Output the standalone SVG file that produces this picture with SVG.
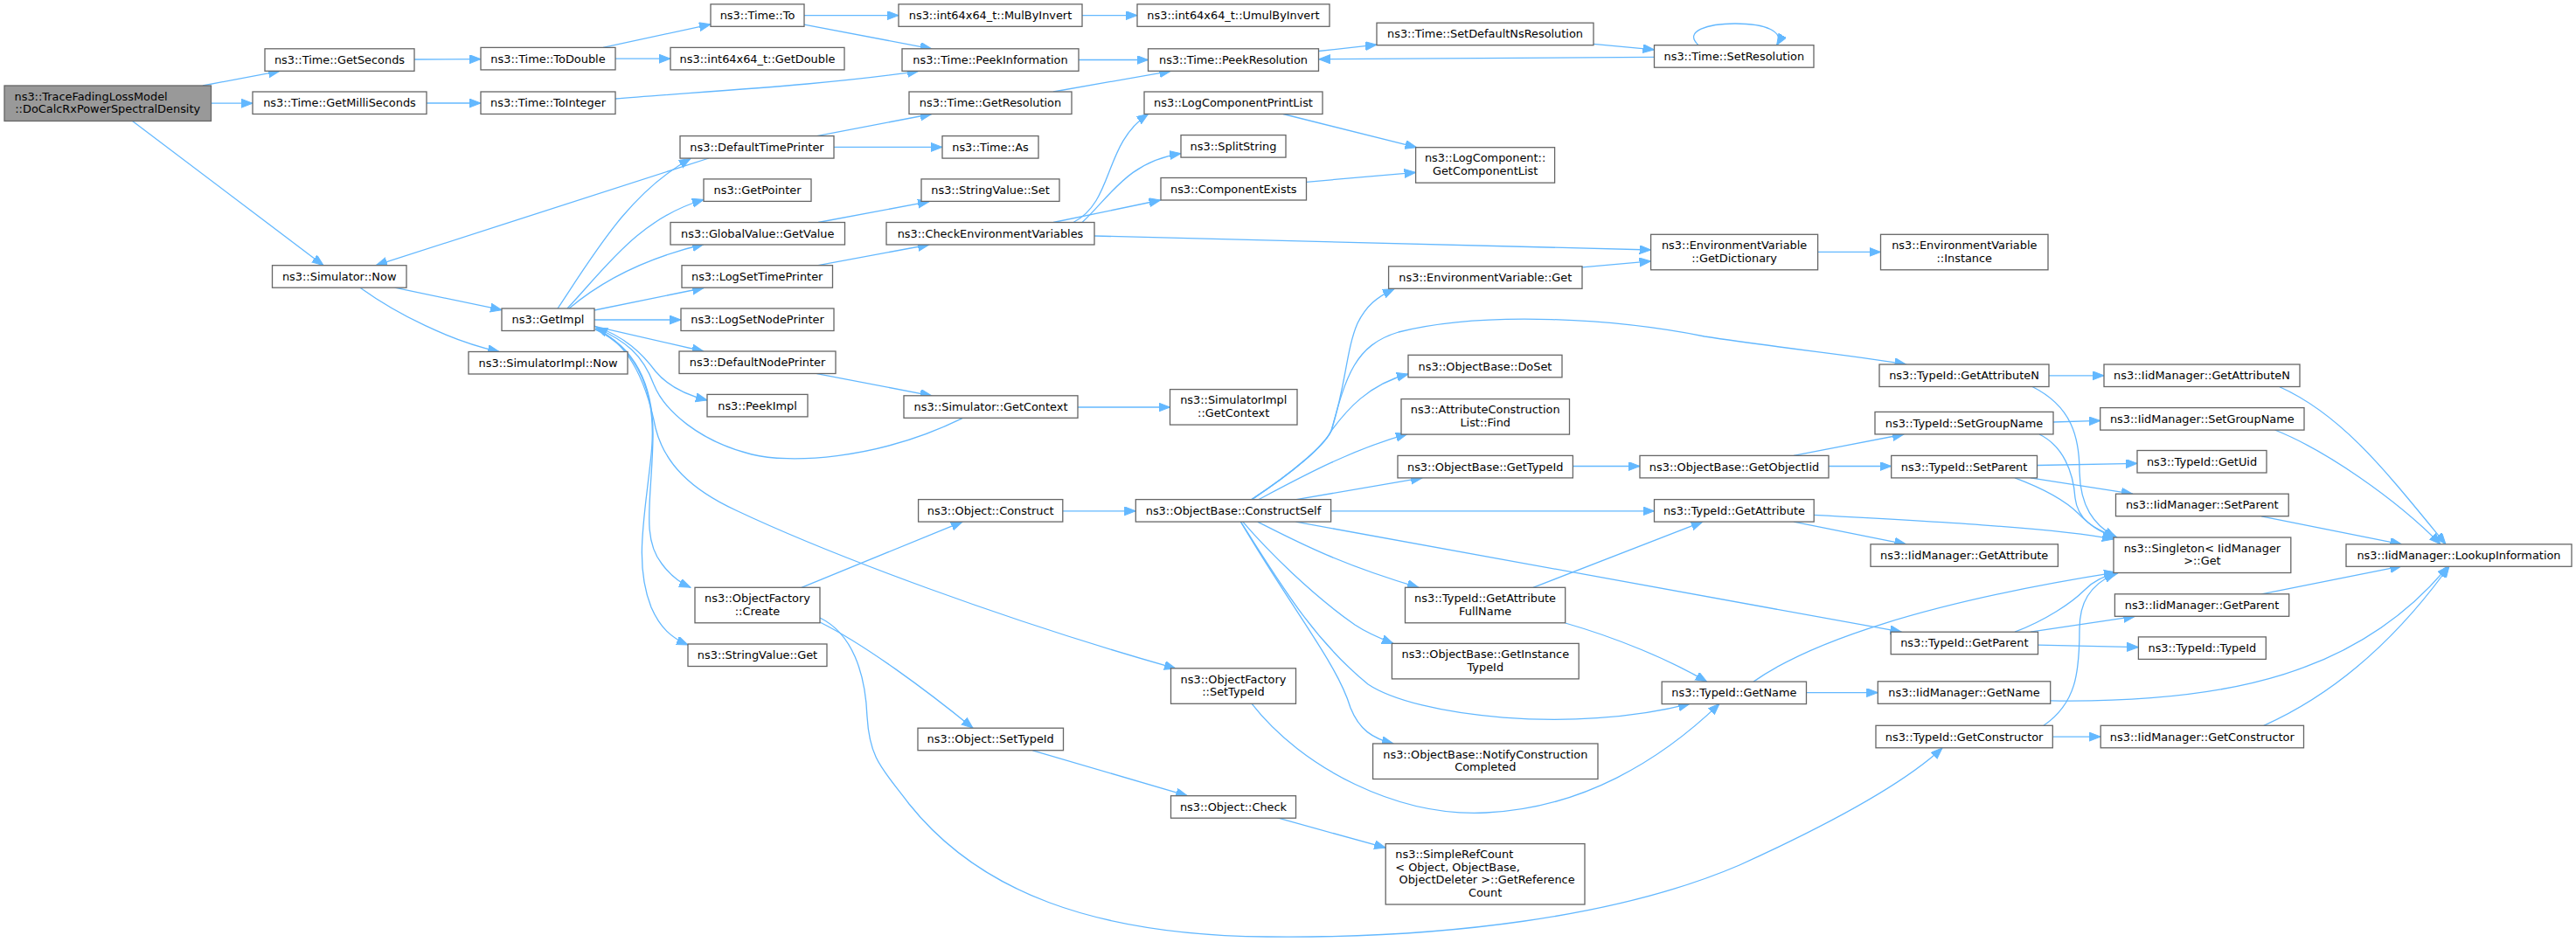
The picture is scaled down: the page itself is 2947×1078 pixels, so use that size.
<svg xmlns="http://www.w3.org/2000/svg" width="2947" height="1078" viewBox="0 0 2947 1078">
<style>
.n rect{fill:#fff;stroke:#666;stroke-width:1.3}
.root rect{fill:#999}
text{font-family:"DejaVu Sans","Noto Sans",sans-serif;font-size:12.9px;fill:#000;text-anchor:middle}
text.l{text-anchor:start}
#edges path{fill:none;stroke:#63b8ff;stroke-width:1.3;marker-end:url(#a)}
</style>
<defs>
<marker id="a" markerWidth="14" markerHeight="11" refX="13" refY="5" orient="auto" markerUnits="userSpaceOnUse"><path d="M0,0 L13,5 L0,10 z" fill="#63b8ff" stroke="#63b8ff" stroke-width="1"/></marker>
</defs>
<rect width="2947" height="1078" fill="#fff"/>
<g id="edges">
<path d="M232,98 L320,81.3"/>
<path d="M241.5,118.2 L289,118.2"/>
<path d="M151.5,138.5 L370,303.7"/>
<path d="M474,68 L550,67.6"/>
<path d="M488,118 L550,118"/>
<path d="M690,54.4 L813,27.8"/>
<path d="M704,67.2 L767,67.2"/>
<path d="M704,113 C800,105 950,97 1051,81.3"/>
<path d="M920,17.6 L1028,17.6"/>
<path d="M920,28.2 L1065.7,55.8"/>
<path d="M1238,17.6 L1301,17.6"/>
<path d="M1234,68.5 L1313.5,68.5"/>
<path d="M1205,105 L1339.5,81.3"/>
<path d="M1508.6,58.5 L1575,51.2"/>
<path d="M1823,50.3 L1892.5,56.8"/>
<path d="M1892.5,65.4 L1508.6,67.8"/>
<path d="M1943,51.7 C1925,35 1955,27 1985,27 C2020,27 2042,36 2032.6,51.7"/>
<path d="M451.6,329.2 L574,354.7"/>
<path d="M412,329.2 C455,360 515,390 571,402.5"/>
<path d="M811,181 L430,303.7"/>
<path d="M638,353 C680,290 720,220 790,181.5"/>
<path d="M649,353 C690,310 730,250 805,228.5"/>
<path d="M651,353 C690,320 740,295 805,279.5"/>
<path d="M680,355 L805,329.5"/>
<path d="M680,366 L779,366"/>
<path d="M680,373.3 L804.8,402"/>
<path d="M680,373 C715,385 735,405 750,425 C765,443 785,452 809,458"/>
<path d="M681,377 C725,395 748,440 747,500 C746,570 733,615 757,645 C768,660 778,667 790,672.3"/>
<path d="M681,377 C730,400 752,450 745,520 C738,590 725,645 745,695 C755,718 768,730 787,738"/>
<path d="M681,376 C720,392 740,440 750,490 C760,530 790,560 842,584 C950,635 1150,710 1345,765"/>
<path d="M1101,478.6 C1000,528 900,530 860,520 C800,505 760,470 748,440 C735,405 715,390 682,375"/>
<path d="M936,254.5 L1063,230.7"/>
<path d="M936,303.7 L1063,280"/>
<path d="M934.5,155.6 L1065.7,130.5"/>
<path d="M954,168.4 L1078,168.4"/>
<path d="M934.5,427.6 L1065.7,452.8"/>
<path d="M1233,466 L1338.5,466"/>
<path d="M1228,254.5 C1275,230 1262,165 1313.5,130.5"/>
<path d="M1238,254.5 C1270,225 1290,185 1351,175.6"/>
<path d="M1205,254.5 L1327.6,229"/>
<path d="M1252,270 L1888.6,286"/>
<path d="M1468,130.5 L1620.6,168.7"/>
<path d="M1494.5,208.3 L1619.6,197.3"/>
<path d="M2079.6,288.4 L2151.5,288.4"/>
<path d="M1810,305.8 L1888.6,298.9"/>
<path d="M917,672.3 L1101,597.2"/>
<path d="M938,712 C990,738 1060,790 1113,833.2"/>
<path d="M938,707 C975,725 990,770 992,820 C995,870 1010,880 1040,920 C1120,1020 1250,1070 1450,1072 C1650,1074 1850,1050 1990,990 C2100,940 2180,895 2222,856"/>
<path d="M1215.8,584.8 L1299.3,584.8"/>
<path d="M1181.4,858.8 L1358.3,910.7"/>
<path d="M1460.6,935.7 L1585.2,970.2"/>
<path d="M1431.5,804.7 C1490,880 1600,935 1700,930 C1810,925 1900,870 1967,805.4"/>
<path d="M1432,571.6 C1480,540 1515,510 1523,493 C1540,440 1540,400 1553,370 C1563,350 1575,340 1595,330.6"/>
<path d="M1432,571.6 C1480,540 1515,510 1523,493 C1540,430 1550,395 1600,380 C1700,355 1850,365 1950,385 C2050,400 2130,408 2180.5,417"/>
<path d="M1432,571.6 C1480,540 1515,510 1523,493 C1540,470 1565,440 1611,428"/>
<path d="M1440,571.6 C1490,545 1545,515 1610,496.6"/>
<path d="M1483,571.6 L1627,546.9"/>
<path d="M1522.6,584.8 L1892.5,584.8"/>
<path d="M1438.8,597.2 C1480,618 1530,645 1623,672.3"/>
<path d="M1421.8,597.2 C1450,630 1500,680 1550,715 C1565,725 1580,731 1594,736.4"/>
<path d="M1419.4,597.2 C1480,700 1530,760 1545,810 C1555,835 1570,845 1594,851"/>
<path d="M1419.4,597.2 C1460,660 1500,730 1565,783 C1620,820 1800,840 1933,805.4"/>
<path d="M1482.4,597.2 L2175.4,723.2"/>
<path d="M1753.9,672.3 L1947.7,597.2"/>
<path d="M1790.7,713 C1850,730 1910,755 1952.6,780.1"/>
<path d="M1799.4,533.5 L1876,533.5"/>
<path d="M2092,533.5 L2163.7,533.5"/>
<path d="M2052,521.4 L2178,497"/>
<path d="M2052,597.2 L2180.5,622.8"/>
<path d="M2075,589.4 C2200,596 2350,604 2418,617"/>
<path d="M2066.5,792.6 L2148.3,792.6"/>
<path d="M2006,780.1 C2070,735 2200,690 2420,655.2"/>
<path d="M2344,429.8 L2407,429.8"/>
<path d="M2325,442.5 C2370,465 2379,500 2379,540 C2380,580 2395,600 2420,615"/>
<path d="M2349,483 L2402.7,481.4"/>
<path d="M2333,497 C2360,510 2372,540 2374,570 C2377,595 2395,605 2422,615"/>
<path d="M2330.5,532.5 L2445,530.3"/>
<path d="M2322.9,546.9 L2439.8,565.2"/>
<path d="M2305,546.9 C2340,560 2365,575 2378,588 C2390,600 2400,608 2420,615"/>
<path d="M2587.2,590.8 L2747.4,622.8"/>
<path d="M2607.5,442.5 C2680,475 2730,540 2798,622.8"/>
<path d="M2602.5,492 C2660,515 2740,570 2792,622.8"/>
<path d="M2587.2,679.8 L2747.4,647.8"/>
<path d="M2345.7,801.9 C2550,805 2700,770 2800.7,647.8"/>
<path d="M2589.8,830.3 C2680,790 2750,720 2802,647.8"/>
<path d="M2322.9,723.2 L2442.3,705.4"/>
<path d="M2331.5,738.2 L2446.4,740.6"/>
<path d="M2305,723.2 C2340,710 2370,690 2385,675 C2395,665 2405,660 2424,655.2"/>
<path d="M2348.3,843.1 L2403.2,843.1"/>
<path d="M2338,830.3 C2375,805 2379,770 2379,720 C2379,690 2390,670 2420,656"/>
</g>
<g id="n0" class="n root"><rect x="5" y="98" width="236.5" height="40.5"/><text class="l" x="16.5" y="114.8">ns3::TraceFadingLossModel</text><text x="123.2" y="129.2">::DoCalcRxPowerSpectralDensity</text></g>
<g id="n1" class="n"><rect x="303" y="55.8" width="171" height="25.5"/><text x="388.5" y="73">ns3::Time::GetSeconds</text></g>
<g id="n2" class="n"><rect x="289" y="105" width="199" height="25.5"/><text x="388.5" y="122.2">ns3::Time::GetMilliSeconds</text></g>
<g id="n3" class="n"><rect x="311.5" y="303.7" width="153.5" height="25.5"/><text x="388.2" y="320.9">ns3::Simulator::Now</text></g>
<g id="n4" class="n"><rect x="550" y="54.4" width="154" height="25.5"/><text x="627" y="71.6">ns3::Time::ToDouble</text></g>
<g id="n5" class="n"><rect x="550" y="105" width="154" height="25.5"/><text x="627" y="122.2">ns3::Time::ToInteger</text></g>
<g id="n6" class="n"><rect x="574" y="353" width="106" height="25.5"/><text x="627" y="370.2">ns3::GetImpl</text></g>
<g id="n7" class="n"><rect x="536" y="402.5" width="182" height="25.5"/><text x="627" y="419.7">ns3::SimulatorImpl::Now</text></g>
<g id="n8" class="n"><rect x="813" y="4.8" width="107" height="25.5"/><text x="866.5" y="22">ns3::Time::To</text></g>
<g id="n9" class="n"><rect x="767" y="54.4" width="199" height="25.5"/><text x="866.5" y="71.6">ns3::int64x64_t::GetDouble</text></g>
<g id="n10" class="n"><rect x="778" y="155.6" width="176" height="25.5"/><text x="866" y="172.8">ns3::DefaultTimePrinter</text></g>
<g id="n11" class="n"><rect x="805" y="204.9" width="123" height="25.5"/><text x="866.5" y="222.1">ns3::GetPointer</text></g>
<g id="n12" class="n"><rect x="767" y="254.5" width="199.5" height="25.5"/><text x="866.8" y="271.7">ns3::GlobalValue::GetValue</text></g>
<g id="n13" class="n"><rect x="780" y="303.7" width="172.5" height="25.5"/><text x="866.2" y="320.9">ns3::LogSetTimePrinter</text></g>
<g id="n14" class="n"><rect x="779" y="353" width="175" height="25.5"/><text x="866.5" y="370.2">ns3::LogSetNodePrinter</text></g>
<g id="n15" class="n"><rect x="777" y="402" width="179" height="25.5"/><text x="866.5" y="419.2">ns3::DefaultNodePrinter</text></g>
<g id="n16" class="n"><rect x="809" y="451.4" width="115" height="25.5"/><text x="866.5" y="468.6">ns3::PeekImpl</text></g>
<g id="n17" class="n"><rect x="795" y="672.3" width="143" height="40.5"/><text x="866.5" y="689">ns3::ObjectFactory</text><text x="866.5" y="703.5">::Create</text></g>
<g id="n18" class="n"><rect x="787" y="737" width="159" height="25.5"/><text x="866.5" y="754.2">ns3::StringValue::Get</text></g>
<g id="n19" class="n"><rect x="1028" y="4.8" width="210" height="25.5"/><text x="1133" y="22">ns3::int64x64_t::MulByInvert</text></g>
<g id="n20" class="n"><rect x="1032" y="55.8" width="202" height="25.5"/><text x="1133" y="73">ns3::Time::PeekInformation</text></g>
<g id="n21" class="n"><rect x="1040" y="105" width="186" height="25.5"/><text x="1133" y="122.2">ns3::Time::GetResolution</text></g>
<g id="n22" class="n"><rect x="1078" y="155.6" width="110" height="25.5"/><text x="1133" y="172.8">ns3::Time::As</text></g>
<g id="n23" class="n"><rect x="1054" y="204.9" width="158" height="25.5"/><text x="1133" y="222.1">ns3::StringValue::Set</text></g>
<g id="n24" class="n"><rect x="1014" y="254.5" width="238" height="25.5"/><text x="1133" y="271.7">ns3::CheckEnvironmentVariables</text></g>
<g id="n25" class="n"><rect x="1034" y="452.8" width="199" height="25.5"/><text x="1133.5" y="470">ns3::Simulator::GetContext</text></g>
<g id="n26" class="n"><rect x="1050.6" y="571.6" width="165.2" height="25.5"/><text x="1133.2" y="588.8">ns3::Object::Construct</text></g>
<g id="n27" class="n"><rect x="1050" y="833.2" width="166.5" height="25.5"/><text x="1133.2" y="850.4">ns3::Object::SetTypeId</text></g>
<g id="n28" class="n"><rect x="1301" y="4.8" width="220" height="25.5"/><text x="1411" y="22">ns3::int64x64_t::UmulByInvert</text></g>
<g id="n29" class="n"><rect x="1313.5" y="55.8" width="195" height="25.5"/><text x="1411" y="73">ns3::Time::PeekResolution</text></g>
<g id="n30" class="n"><rect x="1309" y="105" width="204" height="25.5"/><text x="1411" y="122.2">ns3::LogComponentPrintList</text></g>
<g id="n31" class="n"><rect x="1351" y="154.6" width="120" height="25.5"/><text x="1411" y="171.8">ns3::SplitString</text></g>
<g id="n32" class="n"><rect x="1328" y="203.5" width="166.5" height="25.5"/><text x="1411.2" y="220.7">ns3::ComponentExists</text></g>
<g id="n33" class="n"><rect x="1338.5" y="445.6" width="145.5" height="40.5"/><text x="1411.2" y="462.3">ns3::SimulatorImpl</text><text x="1411.2" y="476.8">::GetContext</text></g>
<g id="n34" class="n"><rect x="1299.3" y="571.6" width="223.3" height="25.5"/><text x="1411" y="588.8">ns3::ObjectBase::ConstructSelf</text></g>
<g id="n35" class="n"><rect x="1339.5" y="764.8" width="143" height="40.5"/><text x="1411" y="781.5">ns3::ObjectFactory</text><text x="1411" y="796">::SetTypeId</text></g>
<g id="n36" class="n"><rect x="1339.5" y="910.7" width="143" height="25.5"/><text x="1411" y="927.9">ns3::Object::Check</text></g>
<g id="n37" class="n"><rect x="1575" y="26.2" width="248" height="25.5"/><text x="1699" y="43.4">ns3::Time::SetDefaultNsResolution</text></g>
<g id="n38" class="n"><rect x="1619.6" y="168.7" width="159" height="40.5"/><text x="1699.1" y="185.4">ns3::LogComponent::</text><text x="1699.1" y="199.9">GetComponentList</text></g>
<g id="n39" class="n"><rect x="1588.6" y="304.8" width="221.4" height="25.5"/><text x="1699.3" y="322">ns3::EnvironmentVariable::Get</text></g>
<g id="n40" class="n"><rect x="1611" y="406.3" width="176" height="25.5"/><text x="1699" y="423.5">ns3::ObjectBase::DoSet</text></g>
<g id="n41" class="n"><rect x="1603" y="456.6" width="192.5" height="40.5"/><text x="1699.2" y="473.3">ns3::AttributeConstruction</text><text x="1699.2" y="487.8">List::Find</text></g>
<g id="n42" class="n"><rect x="1599" y="521.4" width="200.4" height="25.5"/><text x="1699.2" y="538.6">ns3::ObjectBase::GetTypeId</text></g>
<g id="n43" class="n"><rect x="1607.5" y="672.3" width="183.2" height="40.5"/><text x="1699.1" y="689">ns3::TypeId::GetAttribute</text><text x="1699.1" y="703.5">FullName</text></g>
<g id="n44" class="n"><rect x="1592.4" y="736.4" width="213.8" height="40.5"/><text x="1699.3" y="753.1">ns3::ObjectBase::GetInstance</text><text x="1699.3" y="767.6">TypeId</text></g>
<g id="n45" class="n"><rect x="1570.6" y="851" width="257.4" height="40.5"/><text x="1699.3" y="867.7">ns3::ObjectBase::NotifyConstruction</text><text x="1699.3" y="882.2">Completed</text></g>
<g id="n46" class="n"><rect x="1585.2" y="965.6" width="227.8" height="69.4"/><text class="l" x="1596.3" y="982.3">ns3::SimpleRefCount</text><text class="l" x="1596.3" y="996.7">&lt; Object, ObjectBase,</text><text class="l" x="1600.5" y="1011.1">ObjectDeleter &gt;::GetReference</text><text x="1699.1" y="1025.5">Count</text></g>
<g id="n47" class="n"><rect x="1892.5" y="51.7" width="182.5" height="25.5"/><text x="1983.8" y="68.9">ns3::Time::SetResolution</text></g>
<g id="n48" class="n"><rect x="1888.6" y="268.3" width="191" height="40.5"/><text x="1984.1" y="285">ns3::EnvironmentVariable</text><text x="1984.1" y="299.5">::GetDictionary</text></g>
<g id="n49" class="n"><rect x="1876" y="521.4" width="216" height="25.5"/><text x="1984" y="538.6">ns3::ObjectBase::GetObjectIid</text></g>
<g id="n50" class="n"><rect x="1892.5" y="571.6" width="182.7" height="25.5"/><text x="1983.9" y="588.8">ns3::TypeId::GetAttribute</text></g>
<g id="n51" class="n"><rect x="1901.2" y="780.1" width="165.3" height="25.5"/><text x="1983.9" y="797.3">ns3::TypeId::GetName</text></g>
<g id="n52" class="n"><rect x="2151.5" y="268.3" width="191.5" height="40.5"/><text x="2247.3" y="285">ns3::EnvironmentVariable</text><text x="2247.3" y="299.5">::Instance</text></g>
<g id="n53" class="n"><rect x="2150" y="417" width="194" height="25.5"/><text x="2247" y="434.2">ns3::TypeId::GetAttributeN</text></g>
<g id="n54" class="n"><rect x="2145" y="471.4" width="204" height="25.5"/><text x="2247" y="488.6">ns3::TypeId::SetGroupName</text></g>
<g id="n55" class="n"><rect x="2163.7" y="521.4" width="166.8" height="25.5"/><text x="2247.1" y="538.6">ns3::TypeId::SetParent</text></g>
<g id="n56" class="n"><rect x="2140" y="622.8" width="214.4" height="25.5"/><text x="2247.2" y="640">ns3::IidManager::GetAttribute</text></g>
<g id="n57" class="n"><rect x="2163.2" y="723.2" width="168.3" height="25.5"/><text x="2247.3" y="740.4">ns3::TypeId::GetParent</text></g>
<g id="n58" class="n"><rect x="2148.3" y="779.8" width="197.4" height="25.5"/><text x="2247" y="797">ns3::IidManager::GetName</text></g>
<g id="n59" class="n"><rect x="2146" y="830.3" width="202.3" height="25.5"/><text x="2247.1" y="847.5">ns3::TypeId::GetConstructor</text></g>
<g id="n60" class="n"><rect x="2407" y="417" width="224" height="25.5"/><text x="2519" y="434.2">ns3::IidManager::GetAttributeN</text></g>
<g id="n61" class="n"><rect x="2402.7" y="466.6" width="233.3" height="25.5"/><text x="2519.3" y="483.8">ns3::IidManager::SetGroupName</text></g>
<g id="n62" class="n"><rect x="2445" y="515.5" width="148" height="25.5"/><text x="2519" y="532.7">ns3::TypeId::GetUid</text></g>
<g id="n63" class="n"><rect x="2420.5" y="565.2" width="197.7" height="25.5"/><text x="2519.3" y="582.4">ns3::IidManager::SetParent</text></g>
<g id="n64" class="n"><rect x="2418" y="615" width="202.8" height="40.5"/><text x="2519.4" y="631.7">ns3::Singleton&lt; IidManager</text><text x="2519.4" y="646.2">&gt;::Get</text></g>
<g id="n65" class="n"><rect x="2419.4" y="679.8" width="199.3" height="25.5"/><text x="2519" y="697">ns3::IidManager::GetParent</text></g>
<g id="n66" class="n"><rect x="2446.4" y="728.9" width="145.9" height="25.5"/><text x="2519.3" y="746.1">ns3::TypeId::TypeId</text></g>
<g id="n67" class="n"><rect x="2403.2" y="830.3" width="232.3" height="25.5"/><text x="2519.3" y="847.5">ns3::IidManager::GetConstructor</text></g>
<g id="n68" class="n"><rect x="2684" y="622.8" width="258" height="25.5"/><text x="2813" y="640">ns3::IidManager::LookupInformation</text></g>
</svg>
